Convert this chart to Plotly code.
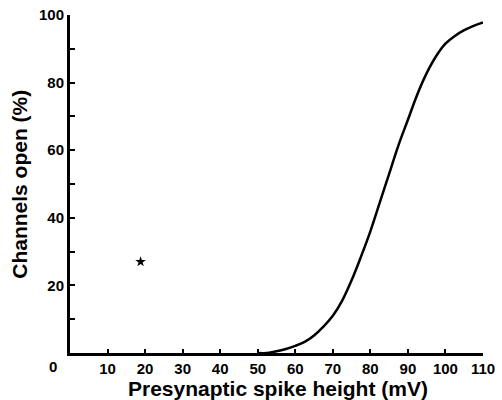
import plotly.graph_objects as go

# Curve data: presynaptic spike height (mV) vs channels open (%)
spike_mv = [50, 52.5, 55, 57.5, 60, 62.5, 65, 67.5, 70, 72.5, 75, 77.5, 80, 82.5, 85, 87.5, 90, 92.5, 95, 97.5, 100, 102.5, 105, 107.5, 110]
open_pct = [0, 0, 0.5, 1.2, 2.1, 3.3, 5.2, 7.8, 11.0, 15.5, 21.5, 28.5, 36.0, 44.5, 53.0, 61.5, 69.0, 76.5, 82.8, 87.8, 91.5, 93.8, 95.5, 96.8, 97.8]

# Single marked point
pt_x = [18.8]
pt_y = [27]

x_ticks = [10, 20, 30, 40, 50, 60, 70, 80, 90, 100, 110]
x_ticktext = ["10", "20", "30", "40", "50", "60", "70", "80", "90", "100", "110"]
y_ticks = [10, 20, 30, 40, 50, 60, 70, 80, 90, 100]
y_ticktext = ["", "20", "", "40", "", "60", "", "80", "", "100"]

fig = go.Figure()
fig.add_trace(go.Scatter(x=spike_mv, y=open_pct, mode="lines",
                         line=dict(color="black", width=2.5, shape="spline"),
                         showlegend=False, hoverinfo="skip"))
fig.add_trace(go.Scatter(x=pt_x, y=pt_y, mode="markers",
                         marker=dict(symbol="star", size=8, color="black"),
                         showlegend=False, hoverinfo="skip"))

fam = "Liberation Sans, Arial, sans-serif"
tickfont = dict(family=fam, size=15, color="black", weight="bold")

fig.update_layout(
    width=502, height=400,
    margin=dict(l=70, r=19, t=15, b=47),
    paper_bgcolor="white", plot_bgcolor="white",
    xaxis=dict(range=[0, 110], showgrid=False, zeroline=False, automargin=False,
               showline=True, linecolor="black", linewidth=3,
               ticks="inside", ticklen=4, tickwidth=2, tickcolor="black",
               ticklabeloverflow="allow",
               tickvals=x_ticks, ticktext=x_ticktext, tickfont=tickfont),
    yaxis=dict(range=[0, 100], showgrid=False, zeroline=False, automargin=False,
               showline=True, linecolor="black", linewidth=3,
               ticks="inside", ticklen=5, tickwidth=2, tickcolor="black",
               ticklabeloverflow="allow",
               tickvals=y_ticks, ticktext=y_ticktext, tickfont=tickfont),
    annotations=[
        dict(text="Presynaptic spike height (mV)", xref="paper", yref="paper",
             x=0.504, y=-0.104, xanchor="center", yanchor="middle", showarrow=False,
             font=dict(family=fam, size=21, color="black", weight="bold")),
        dict(text="Channels open (%)", xref="paper", yref="paper",
             x=-0.124, y=0.5, xanchor="center", yanchor="middle", textangle=-90, showarrow=False,
             font=dict(family=fam, size=21, color="black", weight="bold")),
        dict(text="0", xref="paper", yref="paper",
             x=-0.042, y=-0.041, xanchor="center", yanchor="middle", showarrow=False,
             font=tickfont),
    ],
)

fig.write_html("out.html", config={"displayModeBar": False},
               post_script="document.body.style.margin='0';document.body.style.overflow='hidden';")
